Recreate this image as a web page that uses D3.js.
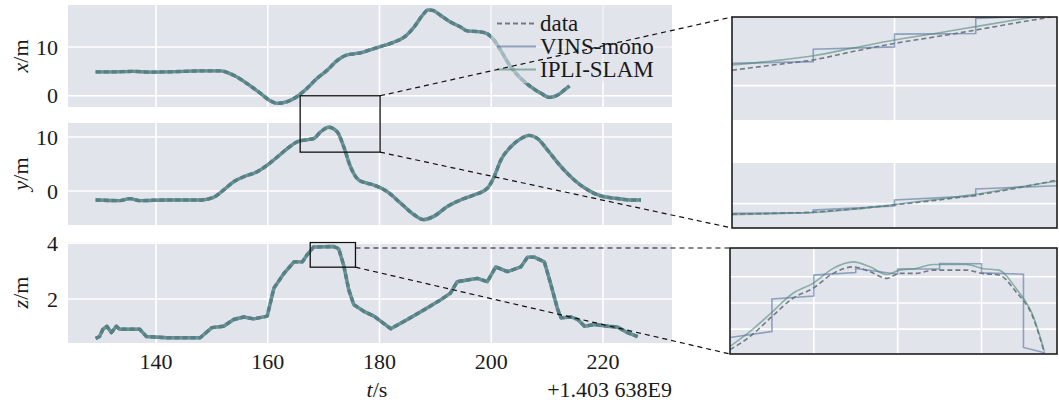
<!DOCTYPE html>
<html lang="en">
<head>
<meta charset="UTF-8">
<title>Trajectory comparison</title>
<script src="https://cdnjs.cloudflare.com/ajax/libs/d3/7.8.4/d3.min.js"></script>
<style>
  body { margin: 0; background: #fff; }
  svg { display: block; }
  text { font-family: "Liberation Serif", "Times New Roman", serif; }
</style>
</head>
<body>
<svg width="1059" height="405"></svg>
<script>
// time is seconds after 1.403638E9
const tX = [129.2, 132, 135.9, 139, 141.9, 145, 147.9, 151.5, 153.9, 156.3, 158.7, 160.4, 161.7, 163.5, 165.2, 167.0, 168.8, 170.6, 172.4, 174.0, 175.4, 176.6, 179.0, 180.8, 182.6, 184.4, 186.2, 187.7, 188.7, 189.5, 190.9, 192.7, 194.5, 195.7, 198.1, 199.3, 200.5, 201.7, 203.5, 205.3, 207.1, 208.9, 210.4, 211.9, 213.1, 214.0];
const xVals = [4.9, 4.9, 5.0, 4.85, 4.9, 5.0, 5.1, 5.1, 4.2, 2.5, 0.5, -1.0, -1.55, -1.2, -0.2, 1.5, 3.55, 5.2, 7.2, 8.3, 8.6, 8.8, 9.67, 10.3, 11.0, 12.0, 14.1, 16.5, 17.6, 17.5, 16.5, 15.1, 14.1, 13.3, 13.1, 12.7, 11.4, 9.3, 5.9, 3.55, 1.84, 0.5, -0.33, 0.14, 1.2, 2.0];

const tY = [129.2, 133.5, 135.3, 137.1, 141.9, 147.9, 150.3, 152.1, 153.9, 155.7, 158.1, 159.9, 161.7, 163.5, 165.2, 167.0, 168.2, 169.4, 170.9, 172.4, 173.6, 174.8, 176.3, 177.6, 179.0, 181.4, 183.8, 186.2, 187.9, 189.7, 192.1, 194.5, 196.9, 199.3, 200.5, 201.7, 203.5, 205.3, 206.8, 208.3, 210.1, 212.5, 214.9, 217.3, 219.6, 222.6, 225.0, 226.8];
const yVals = [-1.66, -1.78, -1.41, -1.78, -1.66, -1.66, -1.17, 0.18, 1.72, 2.64, 3.56, 4.79, 6.3, 7.86, 9.08, 9.5, 9.7, 10.9, 11.8, 11.0, 8.2, 4.5, 2.0, 1.5, 1.1, -0.13, -2.27, -4.4, -5.3, -4.7, -2.9, -1.66, -0.74, 0.5, 2.6, 5.7, 8.2, 9.7, 10.3, 9.7, 7.55, 4.5, 2.0, 0.18, -0.92, -1.4, -1.66, -1.66];

const tZ = [129.2, 129.9, 130.5, 131.2, 132.0, 132.9, 133.5, 137.1, 138.3, 141.9, 147.9, 150.0, 152.1, 153.9, 155.7, 157.5, 159.9, 161.1, 162.9, 164.7, 166.2, 167.0, 168.2, 171.8, 172.7, 173.6, 174.5, 175.4, 177.2, 179.0, 182.0, 185.0, 188.0, 191.0, 192.7, 193.9, 195.7, 197.5, 199.3, 200.8, 202.9, 205.3, 206.5, 207.7, 209.5, 210.7, 211.9, 212.5, 214.3, 215.5, 216.7, 218.5, 220.9, 222.6, 224.4, 226.2];
const zVals = [0.59, 0.66, 0.92, 1.03, 0.8, 1.03, 0.92, 0.92, 0.66, 0.62, 0.62, 0.98, 1.03, 1.27, 1.36, 1.29, 1.39, 2.39, 2.92, 3.33, 3.33, 3.57, 3.86, 3.88, 3.80, 3.20, 2.33, 1.80, 1.56, 1.39, 0.94, 1.27, 1.62, 1.98, 2.21, 2.62, 2.68, 2.74, 2.62, 3.15, 2.98, 3.15, 3.50, 3.50, 3.33, 2.5, 1.62, 1.33, 1.36, 1.27, 1.03, 1.09, 1.03, 1.0, 0.80, 0.66];

const timeTicks = [140, 160, 180, 200, 220];

// zoomed views
const inXT = [170, 170.5, 171, 171.5, 172, 172.5, 173, 173.5, 174];
const inXData = [6.45, 6.6, 6.75, 7.0, 7.23, 7.42, 7.62, 7.83, 8.03];
const inXIpli = [6.6, 6.72, 6.87, 7.1, 7.33, 7.52, 7.72, 7.92, 8.1];
const inXVinsT = [170, 171, 171, 172, 172, 173, 173, 174];
const inXVins = [6.65, 6.70, 7.06, 7.13, 7.50, 7.52, 7.96, 8.06];

const inYData = [8.74, 8.76, 8.79, 8.87, 8.97, 9.08, 9.21, 9.38, 9.58];
const inYIpli = [8.73, 8.75, 8.78, 8.86, 8.98, 9.10, 9.23, 9.40, 9.55];
const inYVins = [8.76, 8.78, 8.84, 8.94, 9.09, 9.19, 9.36, 9.44];

const inZT = [169.0, 169.24, 169.5, 169.75, 169.99, 170.23, 170.47, 170.67, 170.87, 171.02, 171.22, 171.42, 171.82, 172.01, 172.21, 172.41, 172.61, 172.75];
const inZData = [3.243, 3.344, 3.496, 3.636, 3.712, 3.826, 3.876, 3.838, 3.788, 3.826, 3.826, 3.851, 3.851, 3.826, 3.813, 3.686, 3.496, 3.218];
const inZIpli = [3.268, 3.382, 3.529, 3.674, 3.75, 3.864, 3.914, 3.876, 3.818, 3.851, 3.864, 3.894, 3.894, 3.864, 3.851, 3.712, 3.509, 3.23];
const inZVinsT = [169.0, 169.5, 169.5, 170.0, 170.0, 170.5, 170.5, 171.0, 171.0, 171.5, 171.5, 172.0, 172.0, 172.5, 172.5, 172.75];
const inZVins = [3.336, 3.382, 3.63, 3.653, 3.813, 3.833, 3.864, 3.82, 3.859, 3.86, 3.902, 3.90, 3.83, 3.82, 3.26, 3.22];

const series = [
  { name: "data", color: "#4d5562", opacity: 0.75, dash: "5,3" },
  { name: "VINS-mono", color: "#56729f", opacity: 0.6, dash: null },
  { name: "IPLI-SLAM", color: "#4f8b79", opacity: 0.6, dash: null }
];

const bg = "#e2e4ec";
const ink = "#1a1a1a";
const serif = "Liberation Serif, Times New Roman, serif";
const svg = d3.select("svg");
const defs = svg.append("defs");

const left = 68, right = 672;
const t = d3.scaleLinear().domain([124.25, 232.35]).range([left, right]);

const panels = [
  { label: "x", top: 5, bottom: 107, domain: [-2.3, 18.6], ticks: [0, 10], ts: tX, vs: xVals, curve: d3.curveMonotoneX },
  { label: "y", top: 123, bottom: 225, domain: [-6.3, 12.6], ticks: [0, 10], ts: tY, vs: yVals, curve: d3.curveMonotoneX },
  { label: "z", top: 242, bottom: 343, domain: [0.43, 4.04], ticks: [2, 4], ts: tZ, vs: zVals, curve: d3.curveLinear }
];

panels.forEach((p, i) => {
  const y = d3.scaleLinear().domain(p.domain).range([p.bottom, p.top]);
  p.y = y;
  const g = svg.append("g");

  defs.append("clipPath").attr("id", "clip" + i)
    .append("rect").attr("x", left).attr("y", p.top)
    .attr("width", right - left).attr("height", p.bottom - p.top);

  g.append("rect")
    .attr("x", left).attr("y", p.top)
    .attr("width", right - left).attr("height", p.bottom - p.top)
    .attr("fill", bg);

  g.selectAll(".vg").data(timeTicks).enter().append("line")
    .attr("x1", d => t(d)).attr("x2", d => t(d))
    .attr("y1", p.top).attr("y2", p.bottom)
    .attr("stroke", "#fff").attr("stroke-width", 1.6);

  g.selectAll(".hg").data(p.ticks).enter().append("line")
    .attr("x1", left).attr("x2", right)
    .attr("y1", d => y(d)).attr("y2", d => y(d))
    .attr("stroke", "#fff").attr("stroke-width", 1.6);

  const pts = p.ts.map((d, k) => [d, p.vs[k]]);
  const line = d3.line().x(d => t(d[0])).y(d => y(d[1])).curve(p.curve);

  // the three estimates overlap at this scale
  series.forEach(s => {
    g.append("path")
      .attr("clip-path", `url(#clip${i})`)
      .attr("d", line(pts))
      .attr("fill", "none")
      .attr("stroke", s.color)
      .attr("stroke-opacity", s.opacity)
      .attr("stroke-width", 3.4)
      .attr("stroke-dasharray", s.dash)
      .attr("stroke-linejoin", "round");
  });

  g.selectAll(".yl").data(p.ticks).enter().append("text")
    .attr("x", 58).attr("y", d => y(d)).attr("dy", "0.35em")
    .attr("text-anchor", "end")
    .attr("font-family", serif)
    .attr("font-size", 22).attr("fill", ink)
    .text(d => d);

  const lab = g.append("text")
    .attr("transform", `translate(28,${(p.top + p.bottom) / 2}) rotate(-90)`)
    .attr("text-anchor", "middle")
    .attr("font-family", serif)
    .attr("font-size", 22).attr("fill", ink);
  lab.append("tspan").attr("font-style", "italic").text(p.label);
  lab.append("tspan").text("/m");
});

// time axis labels
svg.selectAll(".xl").data(timeTicks).enter().append("text")
  .attr("x", d => t(d)).attr("y", 369)
  .attr("text-anchor", "middle")
  .attr("font-family", serif)
  .attr("font-size", 22).attr("fill", ink)
  .text(d => d);

const tl = svg.append("text")
  .attr("x", 377).attr("y", 397)
  .attr("text-anchor", "middle")
  .attr("font-family", serif)
  .attr("font-size", 22).attr("fill", ink);
tl.append("tspan").attr("font-style", "italic").text("t");
tl.append("tspan").text("/s");

svg.append("text")
  .attr("x", right).attr("y", 397)
  .attr("text-anchor", "end")
  .attr("font-family", serif)
  .attr("font-size", 22).attr("fill", ink)
  .text("+1.403 638E9");

// legend
const lg = svg.append("g");
lg.append("rect")
  .attr("x", 491).attr("y", 5).attr("width", 180).attr("height", 78)
  .attr("fill", bg).attr("opacity", 0.55);
const legendRows = [23.5, 46.5, 69.5];
series.forEach((s, k) => {
  lg.append("line")
    .attr("x1", 497).attr("x2", 536)
    .attr("y1", legendRows[k]).attr("y2", legendRows[k])
    .attr("stroke", s.color).attr("stroke-opacity", s.opacity)
    .attr("stroke-width", 2.2).attr("stroke-dasharray", s.dash);
  lg.append("text")
    .attr("x", 540).attr("y", legendRows[k]).attr("dy", "0.33em")
    .attr("font-family", serif)
    .attr("font-size", 23).attr("fill", ink)
    .text(s.name);
});

// inset views
function drawInset(box, tDom, vDom, tGrid, vGrid, lines, id) {
  const ti = d3.scaleLinear().domain(tDom).range([box.left, box.right]);
  const vi = d3.scaleLinear().domain(vDom).range([box.bottom, box.top]);
  const g = svg.append("g");
  defs.append("clipPath").attr("id", id)
    .append("rect").attr("x", box.left).attr("y", box.top)
    .attr("width", box.right - box.left).attr("height", box.bottom - box.top);
  g.append("rect")
    .attr("x", box.left).attr("y", box.top)
    .attr("width", box.right - box.left).attr("height", box.bottom - box.top)
    .attr("fill", bg);
  g.selectAll(".vg").data(tGrid).enter().append("line")
    .attr("x1", d => ti(d)).attr("x2", d => ti(d))
    .attr("y1", box.top).attr("y2", box.bottom)
    .attr("stroke", "#fff").attr("stroke-width", 1.6);
  g.selectAll(".hg").data(vGrid).enter().append("line")
    .attr("x1", box.left).attr("x2", box.right)
    .attr("y1", d => vi(d)).attr("y2", d => vi(d))
    .attr("stroke", "#fff").attr("stroke-width", 1.6);
  lines.forEach(l => {
    const s = series[l.s];
    const pts = l.ts.map((d, k) => [d, l.vs[k]]);
    g.append("path")
      .attr("clip-path", `url(#${id})`)
      .attr("d", d3.line().x(d => ti(d[0])).y(d => vi(d[1])).curve(l.curve)(pts))
      .attr("fill", "none")
      .attr("stroke", s.color).attr("stroke-opacity", s.opacity)
      .attr("stroke-width", 1.6).attr("stroke-dasharray", s.dash);
  });
}

const insetA = { left: 732, right: 1057, top: 17, bottom: 228 };
drawInset({ left: 732, right: 1057, top: 17, bottom: 120 }, [170, 174], [5, 8], [172], [6], [
  { s: 0, ts: inXT, vs: inXData, curve: d3.curveMonotoneX },
  { s: 1, ts: inXVinsT, vs: inXVins, curve: d3.curveLinear },
  { s: 2, ts: inXT, vs: inXIpli, curve: d3.curveMonotoneX }
], "ia");
drawInset({ left: 732, right: 1057, top: 163, bottom: 228 }, [170, 174], [8.4, 10], [172], [9], [
  { s: 0, ts: inXT, vs: inYData, curve: d3.curveMonotoneX },
  { s: 1, ts: inXVinsT, vs: inYVins, curve: d3.curveLinear },
  { s: 2, ts: inXT, vs: inYIpli, curve: d3.curveMonotoneX }
], "ib");
svg.append("rect")
  .attr("x", insetA.left).attr("y", insetA.top)
  .attr("width", insetA.right - insetA.left).attr("height", insetA.bottom - insetA.top)
  .attr("fill", "none").attr("stroke", "#111").attr("stroke-width", 1.5);

const insetB = { left: 730, right: 1057, top: 248, bottom: 354 };
drawInset(insetB, [169.0, 172.9], [3.21, 4.02], [170, 171, 172], [3.4, 3.6, 3.8], [
  { s: 0, ts: inZT, vs: inZData, curve: d3.curveMonotoneX },
  { s: 1, ts: inZVinsT, vs: inZVins, curve: d3.curveLinear },
  { s: 2, ts: inZT, vs: inZIpli, curve: d3.curveMonotoneX }
], "ic");
svg.append("rect")
  .attr("x", insetB.left).attr("y", insetB.top)
  .attr("width", insetB.right - insetB.left).attr("height", insetB.bottom - insetB.top)
  .attr("fill", "none").attr("stroke", "#111").attr("stroke-width", 1.5);

// zoom markers on main panels
const mA = { x0: t(165.8), x1: t(180.1), y0: panels[0].y(0), y1: panels[1].y(7.2) };
const mB = { x0: t(167.6), x1: t(175.7), y0: panels[2].y(4.02), y1: panels[2].y(3.14) };
[mA, mB].forEach(m => {
  svg.append("rect")
    .attr("x", m.x0).attr("y", m.y0)
    .attr("width", m.x1 - m.x0).attr("height", m.y1 - m.y0)
    .attr("fill", "none").attr("stroke", "#111").attr("stroke-width", 1.3);
});

const connectors = [
  [mA.x1, mA.y0, insetA.left, insetA.top],
  [mA.x1, mA.y1, insetA.left, insetA.bottom],
  [mB.x1, insetB.top, insetB.left, insetB.top],
  [mB.x1, mB.y1, insetB.left, insetB.bottom]
];
svg.selectAll(".conn").data(connectors).enter().append("line")
  .attr("x1", d => d[0]).attr("y1", d => d[1])
  .attr("x2", d => d[2]).attr("y2", d => d[3])
  .attr("stroke", "#111").attr("stroke-width", 1.2)
  .attr("stroke-dasharray", "5,4");
</script>
</body>
</html>
